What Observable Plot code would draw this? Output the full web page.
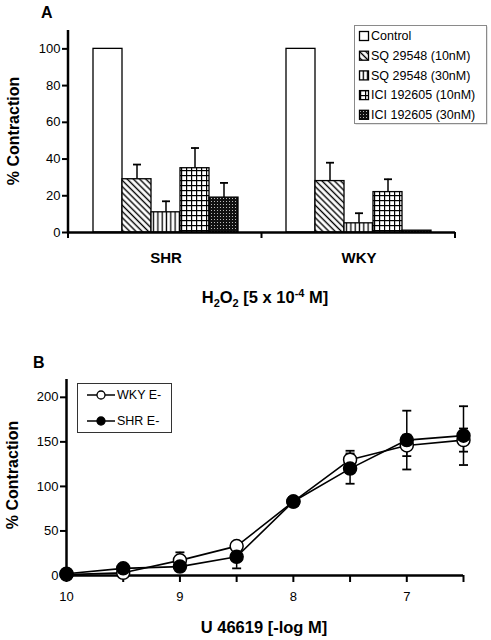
<!DOCTYPE html>
<html>
<head>
<meta charset="utf-8">
<script src="https://cdn.jsdelivr.net/npm/d3@7"></script>
<script src="https://cdn.jsdelivr.net/npm/@observablehq/plot@0.6"></script>
<style>
  html, body { margin: 0; padding: 0; background: white; }
  #wrap { position: relative; width: 491px; height: 640px; overflow: hidden; background: white; }
  .panel { position: absolute; left: 0; }
</style>
</head>
<body>
<div id="wrap"></div>
<script>
// ---------------- Data: panel A ----------------
const groups = ["SHR", "WKY"];
const conditions = ["Control", "SQ 29548 (10nM)", "SQ 29548 (30nM)", "ICI 192605 (10nM)", "ICI 192605 (30nM)"];
const shrMeans  = [100, 29, 11, 35, 19];
const shrErrors = [0, 8, 6, 11, 8];
const wkyMeans  = [100, 28, 5, 22, 1];
const wkyErrors = [0, 10, 5.5, 7, 0];
const yTicksA = [0, 20, 40, 60, 80, 100];

// ---------------- Data: panel B ----------------
const doses = [10, 9.5, 9, 8.5, 8, 7.5, 7, 6.5];
const seriesB = ["WKY E-", "SHR E-"];
const wkyEMeans  = [1, 3, 17, 33, 83, 130, 146, 152];
const wkyEErrors = [0, 0, 9, 0, 0, 10, 12, 13];
const shrEMeans  = [2, 8, 10, 21, 83, 120, 152, 157];
const shrEErrors = [0, 0, 0, 13, 0, 17, 33, 33];
const xTicksB = [10, 9.5, 9, 8.5, 8, 7.5, 7, 6.5];
const yTicksB = [0, 50, 100, 150, 200];

// styles / layout (not data)
const patternFills = ["white", "url(#pDiag)", "url(#pVert)", "url(#pGrid)", "url(#pDots)"];
const FONT = "'Liberation Sans', Arial, sans-serif";
const cap = { draw(ctx, size) { const w = Math.sqrt(size / Math.PI); ctx.moveTo(-w, 0); ctx.lineTo(w, 0); } };
const W = 491;
const A = { height: 320, marginLeft: 68, marginRight: 36, marginTop: 30, marginBottom: 88 };
const B = { height: 320, marginLeft: 66, marginRight: 28, marginTop: 59, marginBottom: 65 };

const wrap = document.getElementById("wrap");

function addPatterns(svg) {
  const defs = svg.append("defs");
  const p1 = defs.append("pattern").attr("id", "pDiag").attr("patternUnits", "userSpaceOnUse")
    .attr("width", 4.4).attr("height", 4.4).attr("patternTransform", "rotate(-45)");
  p1.append("rect").attr("width", 4.4).attr("height", 4.4).attr("fill", "white");
  p1.append("line").attr("x1", 2.2).attr("x2", 2.2).attr("y1", 0).attr("y2", 4.4).attr("stroke", "black").attr("stroke-width", 1.4);
  const p2 = defs.append("pattern").attr("id", "pVert").attr("patternUnits", "userSpaceOnUse").attr("width", 4.3).attr("height", 4.3);
  p2.append("rect").attr("width", 4.3).attr("height", 4.3).attr("fill", "white");
  p2.append("line").attr("x1", 2.1).attr("x2", 2.1).attr("y1", 0).attr("y2", 4.3).attr("stroke", "black").attr("stroke-width", 1.3);
  const p3 = defs.append("pattern").attr("id", "pGrid").attr("patternUnits", "userSpaceOnUse").attr("width", 5).attr("height", 5);
  p3.append("rect").attr("width", 5).attr("height", 5).attr("fill", "white");
  p3.append("line").attr("x1", 0.6).attr("x2", 0.6).attr("y1", 0).attr("y2", 5).attr("stroke", "black").attr("stroke-width", 1.2);
  p3.append("line").attr("x1", 0).attr("x2", 5).attr("y1", 0.6).attr("y2", 0.6).attr("stroke", "black").attr("stroke-width", 1.2);
  const p4 = defs.append("pattern").attr("id", "pDots").attr("patternUnits", "userSpaceOnUse").attr("width", 3).attr("height", 3);
  p4.append("rect").attr("width", 3).attr("height", 3).attr("fill", "#111");
  p4.append("rect").attr("width", 1).attr("height", 1).attr("fill", "#bbb");
}

function addText(svg, str, x, y, opts = {}) {
  const t = svg.append("text").attr("x", x).attr("y", y).attr("dy", "0.35em")
    .attr("font-family", FONT).attr("font-size", opts.size || 13)
    .attr("font-weight", opts.bold ? "bold" : "normal")
    .attr("text-anchor", opts.anchor || "start").attr("fill", "black").text(str);
  if (opts.rotate) t.attr("transform", `rotate(-90, ${x}, ${y})`);
  return t;
}

// ---------------- Panel A ----------------
const meansA = [shrMeans, wkyMeans];
const errsA = [shrErrors, wkyErrors];
const tableA = groups.flatMap((g, gi) => conditions.map((c, ci) => ({
  group: g, cond: c, mean: meansA[gi][ci], err: errsA[gi][ci]
})));
const errA = tableA.filter(d => d.err > 0);

const chartA = Plot.plot({
  width: W, ...A,
  style: { fontFamily: FONT, fontSize: "13px", color: "black", background: "white", overflow: "visible" },
  fx: { domain: groups, padding: 0, label: null },
  x: { domain: conditions, paddingInner: 0, paddingOuter: 0.733, axis: null },
  y: { domain: [0, 110], axis: null },
  color: { domain: conditions, range: patternFills },
  marks: [
    Plot.ruleX(errA, { fx: "group", x: "cond", y1: "mean", y2: d => d.mean + d.err, stroke: "black", strokeWidth: 1.5 }),
    Plot.dot(errA, { fx: "group", x: "cond", y: d => d.mean + d.err, symbol: cap, r: 4, fill: "none", stroke: "black", strokeWidth: 1.8 }),
    Plot.barY(tableA, { fx: "group", x: "cond", y: "mean", fill: "cond", stroke: "black", strokeWidth: 1.3 }),
    Plot.ruleY([0], { stroke: "black", strokeWidth: 2.5 }),
    Plot.axisY({ ticks: yTicksA, tickSize: 7, tickPadding: 2, strokeWidth: 2, fontSize: 13, label: null }),
    Plot.axisFx({ anchor: "bottom", tickSize: 0, tickPadding: 20, fontSize: 15, fontWeight: "bold", label: null })
  ]
});
chartA.classList.add("panel");
chartA.style.top = "0px";
wrap.appendChild(chartA);

{
  const svg = d3.select(chartA);
  addPatterns(svg);
  const left = A.marginLeft, right = W - A.marginRight;
  const y0 = A.height - A.marginBottom, yTop = A.marginTop;
  const step = (right - left) / groups.length;
  // y-axis line and facet-boundary ticks
  svg.append("line").attr("x1", left).attr("x2", left).attr("y1", yTop).attr("y2", y0 + 1.2)
    .attr("stroke", "black").attr("stroke-width", 2.5);
  for (let i = 0; i <= groups.length; i++) {
    const x = left + i * step;
    svg.append("line").attr("x1", x).attr("x2", x).attr("y1", y0).attr("y2", y0 + 6)
      .attr("stroke", "black").attr("stroke-width", 2);
  }
  // titles
  addText(svg, "A", 41, 12, { bold: true, size: 16 });
  addText(svg, "% Contraction", 13, 131, { bold: true, size: 16, anchor: "middle", rotate: true });
  const t = svg.append("text").attr("x", 265).attr("y", 297).attr("dy", "0.35em")
    .attr("font-family", FONT).attr("font-size", 16.5).attr("font-weight", "bold")
    .attr("text-anchor", "middle").attr("fill", "black");
  t.append("tspan").text("H");
  t.append("tspan").attr("dy", 4).attr("font-size", 11).text("2");
  t.append("tspan").attr("dy", -4).text("O");
  t.append("tspan").attr("dy", 4).attr("font-size", 11).text("2");
  t.append("tspan").attr("dy", -4).text(" [5 x 10");
  t.append("tspan").attr("dy", -6).attr("font-size", 11).text("-4");
  t.append("tspan").attr("dy", 6).text(" M]");
  // legend
  const lg = svg.append("g");
  lg.append("rect").attr("x", 355.5).attr("y", 26.5).attr("width", 132).attr("height", 98).attr("fill", "#c8c8c8");
  lg.append("rect").attr("x", 354.5).attr("y", 25.5).attr("width", 132).attr("height", 98)
    .attr("fill", "white").attr("stroke", "#8a8a8a").attr("stroke-width", 1);
  conditions.forEach((c, i) => {
    const cy = 36 + i * 19.7;
    lg.append("rect").attr("x", 359.5).attr("y", cy - 4.5).attr("width", 9).attr("height", 9)
      .attr("fill", patternFills[i]).attr("stroke", "black").attr("stroke-width", 1.3);
    addText(lg, c, 371, cy, { size: 12.5 });
  });
}

// ---------------- Panel B ----------------
const meansB = [wkyEMeans, shrEMeans];
const errsB = [wkyEErrors, shrEErrors];
const tableB = seriesB.flatMap((s, si) => doses.map((x, i) => ({
  series: s, dose: x, mean: meansB[si][i], err: errsB[si][i]
})));
const errB = tableB.filter(d => d.err > 0);
const wkyB = tableB.filter(d => d.series === "WKY E-");
const shrB = tableB.filter(d => d.series === "SHR E-");

const chartB = Plot.plot({
  width: W, ...B,
  style: { fontFamily: FONT, fontSize: "13px", color: "black", background: "white", overflow: "visible" },
  x: { domain: [10, 6.5], axis: null },
  y: { domain: [0, 220], axis: null },
  marks: [
    Plot.ruleY([0], { stroke: "black", strokeWidth: 2.5 }),
    Plot.ruleX([10], { y1: 0, y2: 220, stroke: "black", strokeWidth: 2.5 }),
    Plot.axisX({ ticks: xTicksB, tickFormat: d => Number.isInteger(d) ? String(d) : "", tickSize: 7, tickPadding: 9, strokeWidth: 2, fontSize: 13, label: null }),
    Plot.axisY({ ticks: yTicksB, tickSize: 6, tickPadding: 2, strokeWidth: 2, fontSize: 13, label: null }),
    Plot.ruleX(errB, { x: "dose", y1: d => d.mean - d.err, y2: d => d.mean + d.err, stroke: "black", strokeWidth: 1.5 }),
    Plot.dot(errB, { x: "dose", y: d => d.mean + d.err, symbol: cap, r: 4.5, fill: "none", stroke: "black", strokeWidth: 1.8 }),
    Plot.dot(errB, { x: "dose", y: d => d.mean - d.err, symbol: cap, r: 4.5, fill: "none", stroke: "black", strokeWidth: 1.8 }),
    Plot.line(wkyB, { x: "dose", y: "mean", stroke: "black", strokeWidth: 1.6 }),
    Plot.line(shrB, { x: "dose", y: "mean", stroke: "black", strokeWidth: 1.6 }),
    Plot.dot(wkyB, { x: "dose", y: "mean", r: 6.5, fill: "white", stroke: "black", strokeWidth: 1.5 }),
    Plot.dot(shrB, { x: "dose", y: "mean", r: 6.5, fill: "black", stroke: "black", strokeWidth: 1.5 })
  ]
});
chartB.classList.add("panel");
chartB.style.top = "320px";
wrap.appendChild(chartB);

{
  const svg = d3.select(chartB);
  addText(svg, "B", 33, 42, { bold: true, size: 16 });
  addText(svg, "% Contraction", 12, 155, { bold: true, size: 16, anchor: "middle", rotate: true });
  addText(svg, "U 46619 [-log M]", 264, 307, { bold: true, size: 16.5, anchor: "middle" });
  const lg = svg.append("g");
  lg.append("rect").attr("x", 77.5).attr("y", 63.5).attr("width", 94).attr("height", 49)
    .attr("fill", "white").attr("stroke", "#333").attr("stroke-width", 1);
  seriesB.forEach((s, i) => {
    const cy = 75 + i * 26;
    lg.append("line").attr("x1", 87).attr("x2", 115).attr("y1", cy).attr("y2", cy).attr("stroke", "black").attr("stroke-width", 1.5);
    lg.append("circle").attr("cx", 101).attr("cy", cy).attr("r", 4)
      .attr("fill", i === 0 ? "white" : "black").attr("stroke", "black").attr("stroke-width", 1.3);
    addText(lg, s, 117, cy, { size: 12.5 });
  });
}
</script>
</body>
</html>
